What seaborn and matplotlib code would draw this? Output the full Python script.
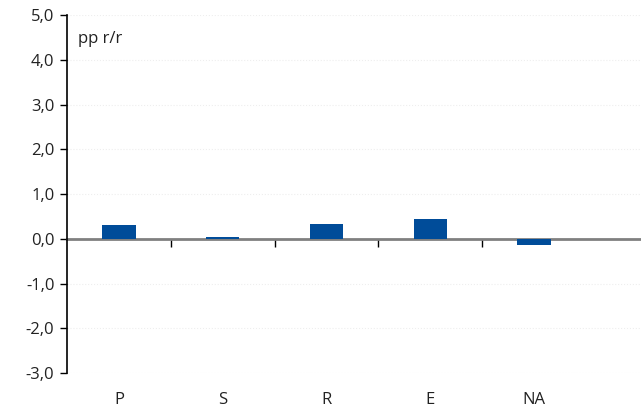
import numpy as np
import pandas as pd
import matplotlib
matplotlib.use('Agg')
import matplotlib.pyplot as plt
import seaborn as sns

categories = ['P', 'S', 'R', 'E', 'NA']
values = [0.30, 0.03, 0.32, 0.45, -0.15]
y_ticks = [-3, -2, -1, 0, 1, 2, 3, 4, 5]
y_labels = ['-3,0', '-2,0', '-1,0', '0,0', '1,0', '2,0', '3,0', '4,0', '5,0']
unit_label = 'pp r/r'

df = pd.DataFrame({'cat': categories, 'val': values})

sns.set_theme(style='white')
plt.rcParams['font.family'] = ['Open Sans', 'DejaVu Sans']

fig = plt.figure(figsize=(6.41, 4.12), dpi=100)
ax = fig.add_axes([67 / 641, 1 - 373 / 412, (641 - 67) / 641, (373 - 15) / 412])

sns.barplot(data=df, x='cat', y='val', color='#004C99', saturation=1,
            width=0.32, linewidth=0, ax=ax, zorder=3)

ax.set_ylim(-3, 5)
ax.set_xlim(-0.5, 5.03)
ax.set_yticks(y_ticks)
ax.set_yticklabels(y_labels, fontsize=12, color='#222222')
ax.set_xlabel('')
ax.set_ylabel('')

# faint gridlines
for t in y_ticks:
    if t != 0:
        ax.axhline(t, color='#eeeeee', linewidth=0.8, linestyle=':', zorder=0)

for s in ['top', 'right', 'bottom']:
    ax.spines[s].set_visible(False)
ax.spines['left'].set_color('black')
ax.spines['left'].set_linewidth(1.2)
ax.tick_params(axis='y', direction='out', length=5, width=1, color='black', pad=4, left=True)
ax.tick_params(axis='x', length=0, pad=14, labelsize=12, labelcolor='#222222')

# zero line with category boundary ticks
sec = ax.secondary_xaxis(0, transform=ax.transData)
sec.set_xticks(np.arange(len(categories) - 1) + 0.5)
sec.set_xticklabels([])
sec.tick_params(direction='out', length=6, width=1, color='black')
sec.spines['bottom'].set_color('#808080')
sec.spines['bottom'].set_linewidth(2)
sec.set_zorder(1)

ax.text(0.02, 0.955, unit_label, transform=ax.transAxes, fontsize=12,
        color='#222222', ha='left', va='top')

fig.savefig('out.png', dpi=100)
